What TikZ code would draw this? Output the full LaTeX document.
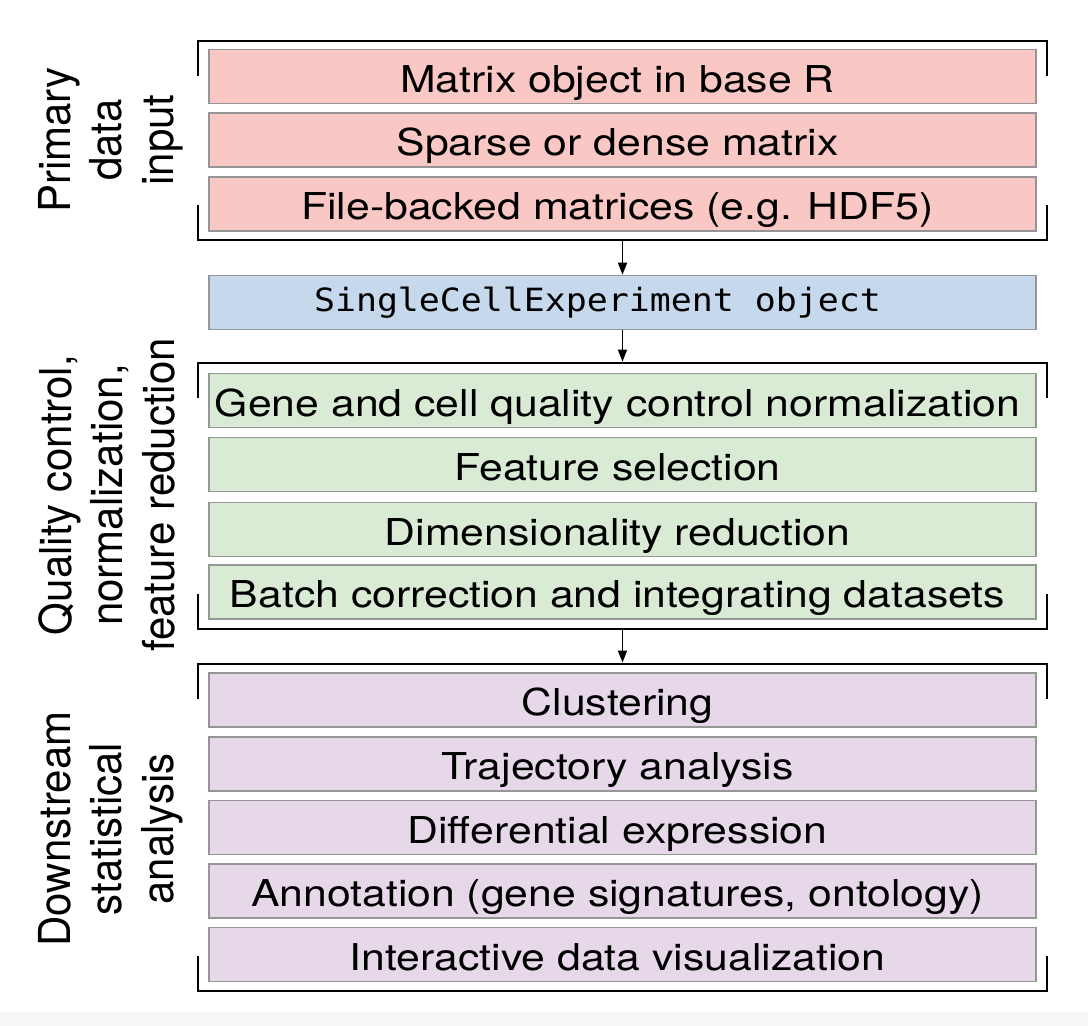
\documentclass[tikz,border=0pt]{standalone}
\usepackage{fontspec}
\newfontfamily\boxfont{TeX Gyre Heros}[FakeStretch=1.155]
\newfontfamily\lblfont{TeX Gyre Heros}[FakeStretch=0.955]
\newfontfamily\codefont{DejaVu Sans Mono}[FakeStretch=1.09]
\usetikzlibrary{arrows.meta}
\definecolor{pinkfill}{RGB}{249,199,196}
\definecolor{bluefill}{RGB}{198,217,236}
\definecolor{greenfill}{RGB}{218,235,213}
\definecolor{purplefill}{RGB}{230,216,233}
\definecolor{boxline}{RGB}{150,150,150}
\definecolor{bandgray}{RGB}{246,246,246}
\begin{document}
\begin{tikzpicture}[x=1pt,y=-1pt,
  stagebox/.style={draw=boxline, line width=1.6pt, minimum width=827pt,
    minimum height=54pt, inner sep=0pt, text height=31pt, text depth=0pt,
    font=\boxfont\fontsize{37}{40}\selectfont},
  pinkbox/.style={stagebox, fill=pinkfill},
  bluebox/.style={stagebox, fill=bluefill, text height=17pt,
    font=\codefont\fontsize{32}{34}\selectfont},
  greenbox/.style={stagebox, fill=greenfill},
  purplebox/.style={stagebox, fill=purplefill},
  bracket/.style={line width=2.8pt, black},
  flow/.style={line width=1.5pt, -{Triangle[length=12pt,width=9pt]}},
  grouplabel/.style={rotate=90, anchor=north, inner sep=0pt, align=center,
    font=\lblfont\fontsize{44}{51.5}\selectfont}
]
\useasboundingbox (0,0) rectangle (1088,1026);
\fill[white] (0,0) rectangle (1088,1026);
\fill[bandgray] (0,1012) rectangle (1088,1026);

% group 1
\node[pinkbox] (m1) at (622.5,76.5) {Matrix object in base R\hspace*{10pt}};
\node[pinkbox] (m2) at (622.5,140) {Sparse or dense matrix\hspace*{10pt}};
\node[pinkbox] (m3) at (622.5,204) {File-backed matrices (e.g. HDF5)\hspace*{10pt}};
\draw[bracket] (198,76) -- (198,41) -- (1047,41) -- (1047,76);
\draw[bracket] (198,205) -- (198,240) -- (1047,240) -- (1047,205);
\coordinate (g1b) at (622.5,241.4);
\node[grouplabel] (l1) at (38,140) {Primary\\data\\input};

% SCE
\node[bluebox] (sce) at (622.5,302.5) {SingleCellExperiment object\hspace*{50pt}};

% group 2
\node[greenbox] (q1) at (622.5,400.5) {Gene and cell quality control normalization\hspace*{10pt}};
\node[greenbox] (q2) at (622.5,464.5) {Feature selection\hspace*{10pt}};
\node[greenbox] (q3) at (622.5,529.5) {Dimensionality reduction\hspace*{10pt}};
\node[greenbox] (q4) at (622.5,592) {Batch correction and integrating datasets\hspace*{10pt}};
\draw[bracket] (198,398) -- (198,363) -- (1047,363) -- (1047,398);
\draw[bracket] (198,594) -- (198,629) -- (1047,629) -- (1047,594);
\coordinate (g2t) at (622.5,361.6);
\coordinate (g2b) at (622.5,630.4);
\node[grouplabel] (l2) at (38,495) {Quality control,\\normalization,\\feature reduction};

% group 3
\node[purplebox] (d1) at (622.5,700) {Clustering\hspace*{10pt}};
\node[purplebox] (d2) at (622.5,764) {Trajectory analysis\hspace*{10pt}};
\node[purplebox] (d3) at (622.5,827.5) {Differential expression\hspace*{10pt}};
\node[purplebox] (d4) at (622.5,891) {Annotation (gene signatures, ontology)\hspace*{10pt}};
\node[purplebox] (d5) at (622.5,954.5) {Interactive data visualization\hspace*{10pt}};
\draw[bracket] (198,699) -- (198,664) -- (1047,664) -- (1047,699);
\draw[bracket] (198,956) -- (198,991) -- (1047,991) -- (1047,956);
\coordinate (g3t) at (622.5,662.6);
\node[grouplabel] (l3) at (38,829) {Downstream\\statistical\\analysis};

% connectors
\draw[flow] (g1b) -- (sce.north);
\draw[flow] (sce.south) -- (g2t);
\draw[flow] (g2b) -- (g3t);
\end{tikzpicture}
\end{document}
